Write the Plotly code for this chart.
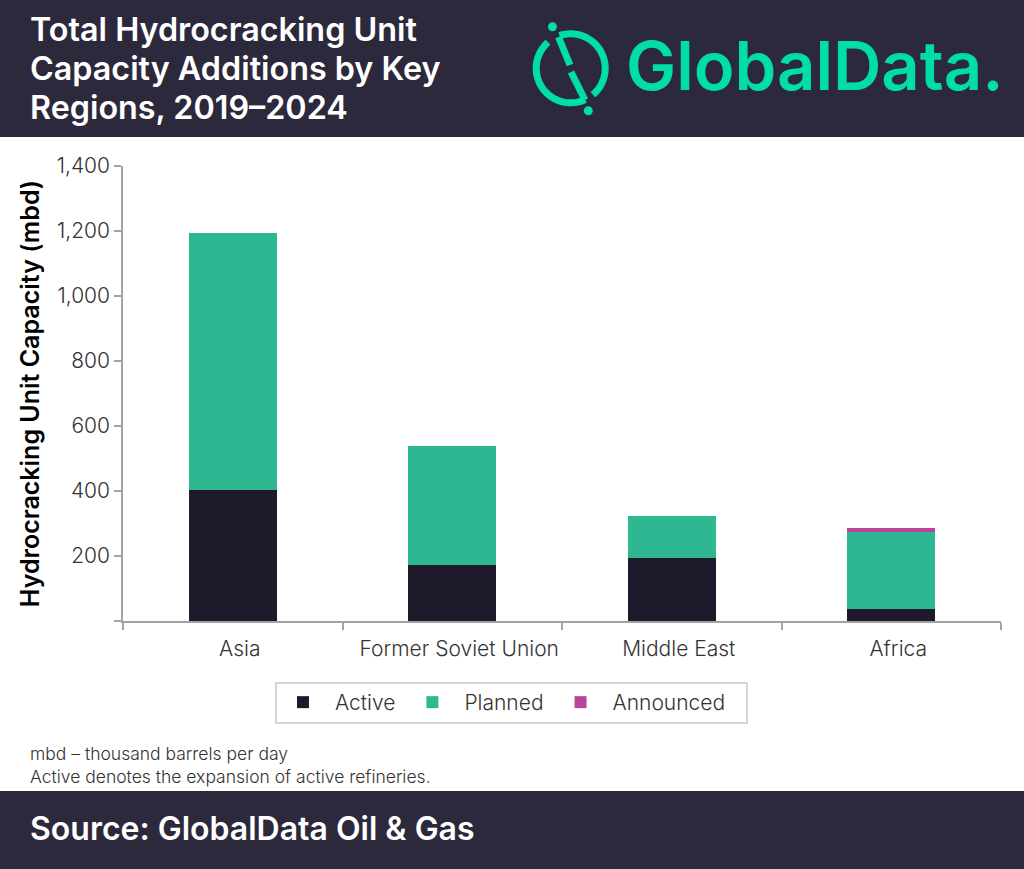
import numpy as np
import plotly.graph_objects as go

regions = ['Asia', 'Former Soviet Union', 'Middle East', 'Africa']
active = [403, 172, 194, 37]
planned = [791, 366, 129, 238]
announced = [0, 0, 0, 10]
y_ticks = [0, 200, 400, 600, 800, 1000, 1200, 1400]
y_labels = ['', '200', '400', '600', '800', '1,000', '1,200', '1,400']

W, H = 1024, 869
L, R, T, B = 123, 23, 166, 248
FONT = 'Inter'
DARK = '#2d293c'
MINT = '#00dea5'


# page pixels -> paper coords, the banners and logo sit outside the plot area
def px(x):
    return (x - L) / (W - L - R)


def py(y):
    return 1 - (y - T) / (H - T - B)


def poly(points):
    return 'M' + 'L'.join(f'{px(x):.5f},{py(y):.5f}' for x, y in points)


def arc(cx, cy, r, a0, a1):
    return [(cx + r * np.cos(a), cy + r * np.sin(a)) for a in np.radians(np.linspace(a0, a1, 60))]


fig = go.Figure()
fig.add_trace(go.Bar(x=regions, y=active, name='Active', marker_color='#1e1a2c', marker_line_width=0))
fig.add_trace(go.Bar(x=regions, y=planned, name='Planned', marker_color='#2eb892', marker_line_width=0))
fig.add_trace(go.Bar(x=regions, y=announced, name='Announced', marker_color='#b9449a', marker_line_width=0))

shapes = [
    dict(type='rect', xref='paper', yref='paper', x0=px(0), x1=px(W), y0=py(0), y1=py(137),
         fillcolor=DARK, line_width=0, layer='below'),
    dict(type='rect', xref='paper', yref='paper', x0=px(0), x1=px(W), y0=py(791), y1=py(H),
         fillcolor=DARK, line_width=0, layer='below'),
    # legend box
    dict(type='rect', xref='paper', yref='paper', x0=px(276), x1=px(747), y0=py(683), y1=py(723),
         line=dict(color='#c8c9cd', width=1.5), layer='below'),
]
# logo mark
cx, cy, r = 570.7, 68.3, 34.5
logo_lines = [
    arc(cx, cy, r, 229, 65),
    arc(cx, cy, r, 251, 410),
    [(558.5, 37), (570, 65)],
    [(571, 72), (585, 100)],
]
for pts in logo_lines:
    shapes.append(dict(type='path', xref='paper', yref='paper', path=poly(pts),
                       line=dict(color=MINT, width=7)))
for dx, dy in [(552.5, 26.7), (588.3, 110.7)]:
    shapes.append(dict(type='circle', xref='paper', yref='paper', fillcolor=MINT, line_width=0,
                       x0=px(dx - 4.5), x1=px(dx + 4.5), y0=py(dy - 4.5), y1=py(dy + 4.5)))

annotations = []
for text, y in [('Total Hydrocracking Unit', 30), ('Capacity Additions by Key', 68.5), ('Regions, 2019–2024', 107)]:
    annotations.append(dict(text=text, x=px(28.5), y=py(y), xanchor='left', yanchor='middle',
                            font=dict(size=32.3, color='white', weight=600)))
annotations += [
    dict(text='GlobalData.', x=px(625), y=py(66), xanchor='left', yanchor='middle',
         font=dict(size=67, color=MINT, weight=600)),
    dict(text='Source: GlobalData Oil &amp; Gas', x=px(28.5), y=py(828), xanchor='left', yanchor='middle',
         font=dict(size=32, color='white', weight=600)),
    dict(text='mbd – thousand barrels per day<br>Active denotes the expansion of active refineries.',
         x=px(29), y=py(765), xanchor='left', yanchor='middle', align='left',
         font=dict(size=17.5, color='#333333', weight=300)),
]
for a in annotations:
    a.update(xref='paper', yref='paper', showarrow=False, borderpad=0)

fig.update_layout(
    width=W, height=H,
    margin=dict(l=L, r=R, t=T, b=B, autoexpand=False),
    paper_bgcolor='white', plot_bgcolor='white',
    barmode='stack', bargap=0.6,
    font=dict(family=FONT, color='#333333'),
    shapes=shapes, annotations=annotations,
    legend=dict(orientation='h', x=px(271), y=py(682), xanchor='left', yanchor='top',
                traceorder='normal', bgcolor='rgba(0,0,0,0)', borderwidth=0, itemwidth=54,
                font=dict(size=21, color='#333333', weight=300)),
)
fig.update_xaxes(type='category', tickson='boundaries', ticks='outside', ticklen=7, tickcolor='#a3a3a3',
                 linecolor='#a3a3a3', linewidth=1.5, showgrid=False, tickwidth=1.5,
                 ticklabelstandoff=8, ticklabelshift=7,
                 tickfont=dict(size=21, weight=300))
fig.update_yaxes(range=[0, 1400], tickvals=y_ticks, ticktext=y_labels, ticks='outside', ticklen=7,
                 tickcolor='#a3a3a3', tickwidth=1.5, linecolor='#a3a3a3', linewidth=1.5, showgrid=False,
                 zeroline=False, tickfont=dict(size=21, weight=300),
                 title=dict(text='Hydrocracking Unit Capacity (mbd)', standoff=10,
                            font=dict(size=25, color='black', weight=600)))

fig.write_html('out.html', config=dict(displayModeBar=False),
               post_script="document.body.style.margin='0';document.documentElement.style.overflow='hidden';")
